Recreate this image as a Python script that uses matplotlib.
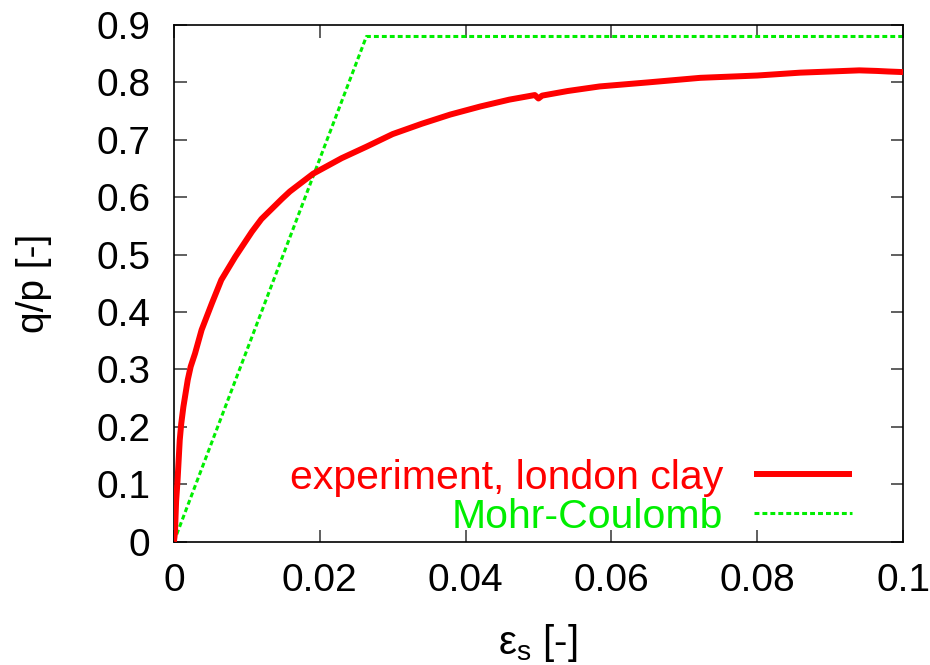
import matplotlib
matplotlib.use("Agg")
import matplotlib.pyplot as plt
import numpy as np

plt.rcParams['font.family'] = ['Liberation Sans', 'DejaVu Sans']
plt.rcParams['mathtext.default'] = 'regular'

# experiment, london clay
exp_eps = [0, 0.00014, 0.0003, 0.0005, 0.0008, 0.0010, 0.0013, 0.0019, 0.0023, 0.0029,
           0.0038, 0.0052, 0.0065, 0.0084, 0.0107, 0.0120, 0.0148, 0.0159, 0.0191, 0.0230,
           0.0264, 0.0300, 0.0340, 0.0379, 0.0420, 0.0460, 0.0495, 0.0500, 0.0505, 0.0540,
           0.0584, 0.0650, 0.0722, 0.0800, 0.0859, 0.0900, 0.0940, 0.0964, 0.0980, 0.1]
exp_qp = [0, 0.015, 0.070, 0.107, 0.177, 0.205, 0.235, 0.282, 0.305, 0.328,
          0.369, 0.415, 0.456, 0.496, 0.540, 0.562, 0.597, 0.610, 0.641, 0.668,
          0.688, 0.710, 0.728, 0.744, 0.758, 0.770, 0.778, 0.772, 0.777, 0.785,
          0.793, 0.800, 0.808, 0.812, 0.817, 0.819, 0.821, 0.820, 0.819, 0.818]

# Mohr-Coulomb model
mc_eps = [0, 0.0264, 0.1]
mc_qp = [0, 0.88, 0.88]

fig = plt.figure(figsize=(9.3, 6.65), dpi=100)
ax = fig.add_axes([0.187, 0.1854, 0.784, 0.777])

ax.plot(exp_eps, exp_qp, color='#ff0000', lw=4.3, label='experiment, london clay',
        solid_capstyle='butt', zorder=3)
ax.plot(mc_eps, mc_qp, color='#00ee00', lw=2.2, linestyle=(0, (1.6, 1.0)),
        label='Mohr-Coulomb', zorder=2)

ax.set_xlim(0, 0.1)
ax.set_ylim(0, 0.9)
ax.set_xticks(np.arange(0, 0.101, 0.02))
ax.set_xticklabels(['0', '0.02', '0.04', '0.06', '0.08', '0.1'])
ax.set_yticks(np.arange(0, 0.91, 0.1))
ax.set_yticklabels(['0', '0.1', '0.2', '0.3', '0.4', '0.5', '0.6', '0.7', '0.8', '0.9'])
ax.tick_params(direction='in', length=9, width=1.2, top=True, right=True,
               labelsize=28, color='#444444')
ax.tick_params(axis='x', pad=15)
ax.tick_params(axis='y', pad=17)
for s in ax.spines.values():
    s.set_linewidth(1.2)

ax.set_xlabel('ε$_s$ [-]', fontsize=29)
ax.set_ylabel('q/p [-]', fontsize=28)
ax.xaxis.set_label_coords(0.499, -0.155)
ax.yaxis.set_label_coords(-0.167, 0.5)

leg = ax.legend(loc='lower right', bbox_to_anchor=(0.93, 0.012), frameon=False,
                markerfirst=False, fontsize=29.5, handlelength=2.4, handletextpad=0.75,
                labelspacing=0.02, borderaxespad=0, borderpad=0, labelcolor='linecolor')

fig.savefig('out.png', dpi=100)
